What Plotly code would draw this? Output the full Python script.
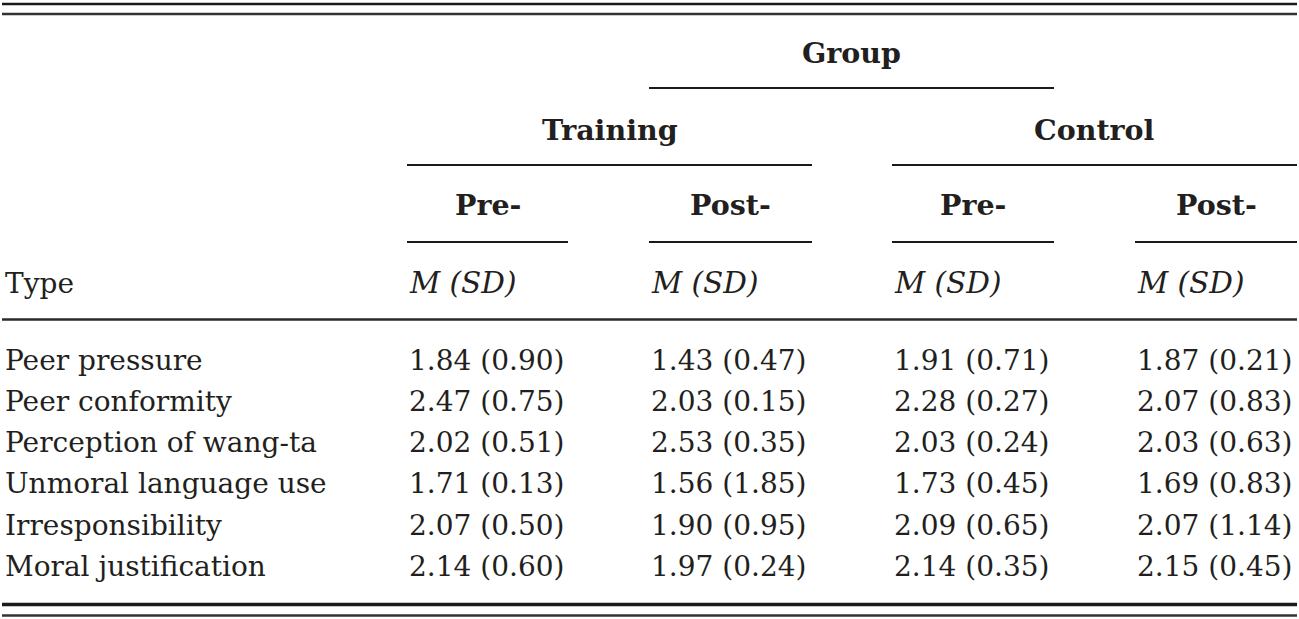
import plotly.graph_objects as go

# ---- data ----
types = ["Peer pressure", "Peer conformity", "Perception of wang-ta",
         "Unmoral language use", "Irresponsibility", "Moral justification"]
training_pre_m = [1.84, 2.47, 2.02, 1.71, 2.07, 2.14]
training_pre_sd = [0.90, 0.75, 0.51, 0.13, 0.50, 0.60]
training_post_m = [1.43, 2.03, 2.53, 1.56, 1.90, 1.97]
training_post_sd = [0.47, 0.15, 0.35, 1.85, 0.95, 0.24]
control_pre_m = [1.91, 2.28, 2.03, 1.73, 2.09, 2.14]
control_pre_sd = [0.71, 0.27, 0.24, 0.45, 0.65, 0.35]
control_post_m = [1.87, 2.07, 2.03, 1.69, 2.07, 2.15]
control_post_sd = [0.21, 0.83, 0.63, 0.83, 1.14, 0.45]

group_label = "Group"
group_names = ["Training", "Control"]
time_names = ["Pre-", "Post-"]
stat_label = "M (SD)"
type_label = "Type"

# ---- layout constants (pixel space) ----
W, H = 1299, 619
FONT = "DejaVu Serif"
FS = 28
FS_BOLD = 28.5
FS_IT = 29.5
TXT = "#231f20"
LINE = "#1a1a1a"
col_left = [407, 649, 892, 1135]
col_right = [568, 812, 1054, 1297]
left_x = 3
row_y0, row_dy = 360, 41.3
y_group, y_grp, y_time, y_stat = 53, 130, 205, 283

columns = [
    (training_pre_m, training_pre_sd),
    (training_post_m, training_post_sd),
    (control_pre_m, control_pre_sd),
    (control_post_m, control_post_sd),
]

ann = []
shapes = []


def text(x, y, s, anchor="left", bold=False, italic=False):
    size = FS
    if bold:
        s = f"<b>{s}</b>"
        size = FS_BOLD
    if italic:
        s = f"<i>{s}</i>"
        size = FS_IT
    ann.append(dict(x=x, y=y, xref="x", yref="y", text=s, showarrow=False,
                    xanchor=anchor, yanchor="middle",
                    font=dict(family=FONT, size=size, color=TXT)))


def hline(x0, x1, y, w, color=LINE):
    shapes.append(dict(type="line", xref="x", yref="y", x0=x0, x1=x1, y0=y, y1=y,
                       line=dict(color=color, width=w)))


# rules
hline(2, 1297, 4, 2.6)
hline(2, 1297, 14, 2.6, "#333333")
hline(col_left[1], col_right[2], 88, 2.2)
hline(col_left[0], col_right[1], 165, 2.2)
hline(col_left[2], col_right[3], 165, 2.2)
for l, r in zip(col_left, col_right):
    hline(l, r, 242, 2.2)
hline(2, 1297, 319.5, 2.6, "#2a2a2a")
hline(2, 1297, 604.5, 3.4)
hline(2, 1297, 615.5, 2.6, "#333333")

# headers
text((col_left[1] + col_right[2]) / 2, y_group, group_label, "center", bold=True)
text((col_left[0] + col_right[1]) / 2, y_grp, group_names[0], "center", bold=True)
text((col_left[2] + col_right[3]) / 2, y_grp, group_names[1], "center", bold=True)
for i, (l, r) in enumerate(zip(col_left, col_right)):
    text((l + r) / 2, y_time, time_names[i % 2], "center", bold=True)
    text(l, y_stat, stat_label, "left", italic=True)
text(left_x, y_stat, type_label)

# body
for i, t in enumerate(types):
    y = row_y0 + i * row_dy
    text(left_x, y, t)
    for c, (ms, sds) in enumerate(columns):
        text(col_left[c], y, f"{ms[i]:.2f} ({sds[i]:.2f})")

fig = go.Figure()
fig.update_layout(
    width=W, height=H, margin=dict(l=0, r=0, t=0, b=0),
    paper_bgcolor="white", plot_bgcolor="white",
    xaxis=dict(range=[0, W], visible=False, fixedrange=True),
    yaxis=dict(range=[H, 0], visible=False, fixedrange=True),
    annotations=ann, shapes=shapes, showlegend=False,
)
fig.write_html(
    "out.html",
    config={"displayModeBar": False},
    post_script="document.body.style.margin='0';document.body.style.overflow='hidden';",
)
